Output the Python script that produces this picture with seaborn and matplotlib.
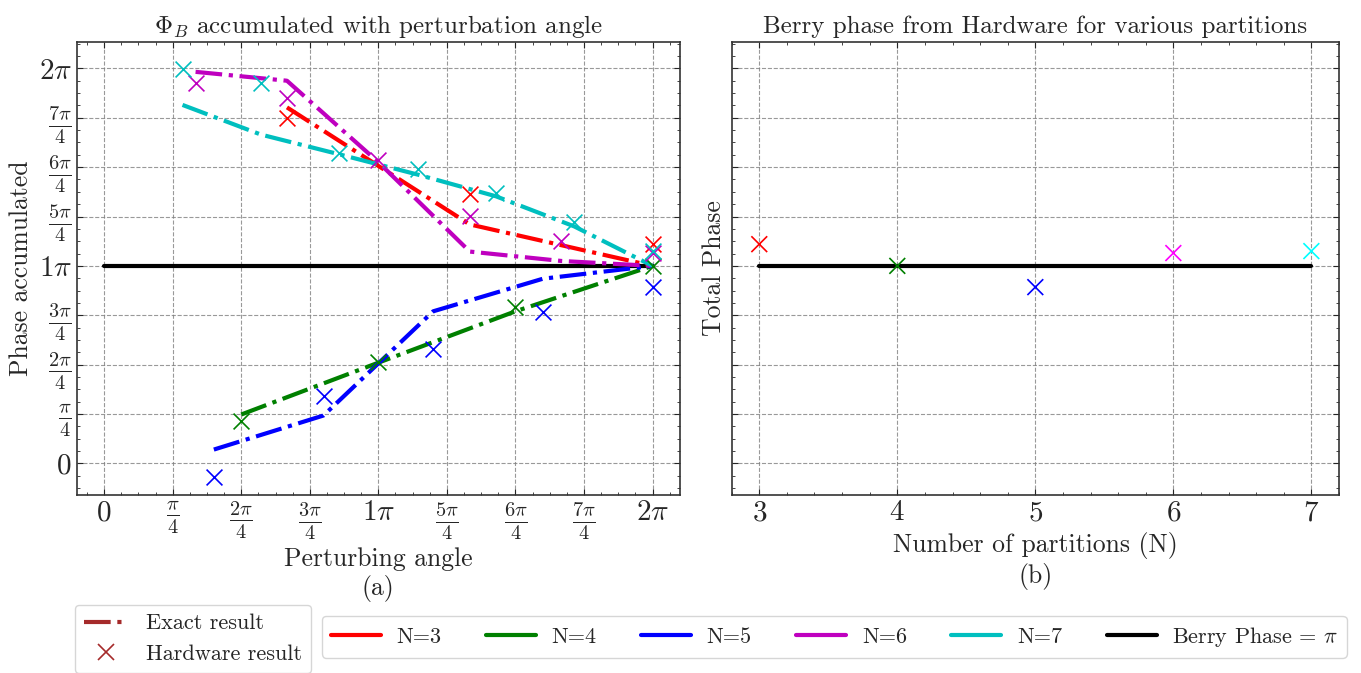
import numpy as np
import pandas as pd
import seaborn as sns
import matplotlib.pyplot as plt
from matplotlib.lines import Line2D
from matplotlib.ticker import MultipleLocator, AutoMinorLocator, FixedLocator

# --- DATI (valori in unita' di pi/4) ---
partizioni = [3, 4, 5, 6, 7]
colori_esatto = ['red', 'green', 'blue', 'm', 'c']
colori_totale = ['red', 'green', 'blue', 'magenta', 'cyan']

esatto_n3 = [7.21, 4.84, 4.0]
esatto_n4 = [0.99, 2.04, 3.08, 4.0]
esatto_n5 = [0.28, 0.97, 3.08, 3.74, 4.0]
esatto_n6 = [7.93, 7.75, 6.1, 4.29, 4.1, 4.0]
esatto_n7 = [7.26, 6.66, 6.26, 5.85, 5.41, 4.80, 4.0]

hardware_n3 = [7.0, 5.46, 4.44]
hardware_n4 = [0.86, 2.05, 3.16, 4.0]
hardware_n5 = [-0.28, 1.36, 2.32, 3.06, 3.57]
hardware_n6 = [7.71, 7.40, 6.15, 5.01, 4.50, 4.26]
hardware_n7 = [7.99, 7.71, 6.29, 5.97, 5.47, 4.89, 4.30]

fase_totale = [4.44, 4.0, 3.57, 4.26, 4.30]
fase_berry = 4.0

etichette_pi = ['$0$', r'$\frac{\pi}{4}$', r'$\frac{2\pi}{4}$', r'$\frac{3\pi}{4}$',
                r'$1\pi$', r'$\frac{5\pi}{4}$', r'$\frac{6\pi}{4}$', r'$\frac{7\pi}{4}$',
                r'$2\pi$']

esatti = [esatto_n3, esatto_n4, esatto_n5, esatto_n6, esatto_n7]
hardware = [hardware_n3, hardware_n4, hardware_n5, hardware_n6, hardware_n7]

# tabella lunga: angolo = 2*pi*k/N
righe = []
for n, es, hw in zip(partizioni, esatti, hardware):
    for k in range(1, n + 1):
        righe.append({'N': n, 'angolo': 2 * np.pi * k / n,
                      'esatto': es[k - 1] * np.pi / 4,
                      'hardware': hw[k - 1] * np.pi / 4})
df = pd.DataFrame(righe)
df_totale = pd.DataFrame({'N': partizioni,
                          'fase': [v * np.pi / 4 for v in fase_totale],
                          'etichetta': [str(n) for n in partizioni]})

# --- STILE ---
sns.set_style('ticks')
plt.rcParams['font.family'] = ['cmr10', 'DejaVu Serif']
plt.rcParams['mathtext.fontset'] = 'cm'
plt.rcParams['axes.formatter.use_mathtext'] = True
plt.rcParams['axes.unicode_minus'] = False

fig = plt.figure(figsize=(13.61, 6.73), dpi=100)
ax1 = fig.add_axes([0.0564, 0.2645, 0.4432, 0.6735])
ax2 = fig.add_axes([0.5376, 0.2645, 0.4462, 0.6735], sharey=ax1)

# --- GRAFICO (a) ---
sns.lineplot(x=[0, 2 * np.pi], y=[np.pi * fase_berry / 4] * 2, ax=ax1, color='black',
             linewidth=3, zorder=2)
for n, col in zip(partizioni, colori_esatto):
    dati = df[df['N'] == n]
    sns.lineplot(data=dati, x='angolo', y='esatto', ax=ax1, color=col, linestyle='-.',
                 linewidth=3, estimator=None, sort=False, legend=False, zorder=3)
    sns.scatterplot(data=dati, x='angolo', y='hardware', ax=ax1, color=col, marker='x',
                    s=130, linewidth=1.2, legend=False, zorder=4)

ax1.xaxis.set_major_locator(FixedLocator([k * np.pi / 4 for k in range(9)]))
ax1.set_xticklabels(etichette_pi)
ax1.yaxis.set_major_locator(FixedLocator([k * np.pi / 4 for k in range(9)]))
ax1.set_yticklabels(etichette_pi)
ax1.xaxis.set_minor_locator(AutoMinorLocator(4))
ax1.yaxis.set_minor_locator(AutoMinorLocator(4))
ax1.set_ylim(-0.64 * np.pi / 4, 8.54 * np.pi / 4)
ax1.set_title(r'$\Phi_B$ accumulated with perturbation angle', fontsize=18)
ax1.set_xlabel('Perturbing angle\n(a)', fontsize=18.5)
ax1.set_ylabel('Phase accumulated', fontsize=18.5)

# --- GRAFICO (b) ---
sns.lineplot(x=[3, 7], y=[np.pi * fase_berry / 4] * 2, ax=ax2, color='black',
             linewidth=3, zorder=2)
sns.scatterplot(data=df_totale, x='N', y='fase', hue='etichetta', palette=colori_totale,
                marker='x', s=130, linewidth=1.2, legend=False, ax=ax2, zorder=4)
ax2.xaxis.set_major_locator(MultipleLocator(1))
ax2.xaxis.set_minor_locator(AutoMinorLocator(5))
ax2.set_xlim(2.8, 7.2)
ax2.set_title('Berry phase from Hardware for various partitions', fontsize=18)
ax2.set_xlabel('Number of partitions (N)\n(b)', fontsize=18.5)
ax2.set_ylabel('Total Phase', fontsize=18.5)

for ax in (ax1, ax2):
    ax.tick_params(which='both', direction='in', top=True, right=True, labelsize=21)
    ax.tick_params(which='major', length=4, width=0.8)
    ax.tick_params(which='minor', length=2, width=0.6)
    ax.grid(True, which='major', linestyle='--', color='gray', linewidth=0.8, alpha=0.8)
    for sp in ax.spines.values():
        sp.set_linewidth(1.2)
        sp.set_color('#333333')
ax2.tick_params(axis='y', which='both', labelleft=False)

# --- LEGENDE ---
maniglie_tipo = [Line2D([], [], color='brown', linestyle='-.', linewidth=3),
                 Line2D([], [], color='brown', marker='x', linestyle='', markersize=11,
                        markeredgewidth=1.2)]
fig.legend(maniglie_tipo, ['Exact result', 'Hardware result'], loc='upper left',
           bbox_to_anchor=(0.0551, 0.101), borderaxespad=0, fontsize=16,
           handlelength=2.0, handletextpad=0.8)
maniglie_n = [Line2D([], [], color=c, linewidth=3) for c in colori_esatto]
maniglie_n.append(Line2D([], [], color='black', linewidth=3))
etichette_n = [f'N={n}' for n in partizioni] + [r'Berry Phase = $\pi$']
fig.legend(maniglie_n, etichette_n, loc='upper left', bbox_to_anchor=(0.2366, 0.0847),
           borderaxespad=0, ncol=6, fontsize=16, columnspacing=2.0, handlelength=2.25,
           handletextpad=0.7)

fig.savefig('out.png', dpi=100)
